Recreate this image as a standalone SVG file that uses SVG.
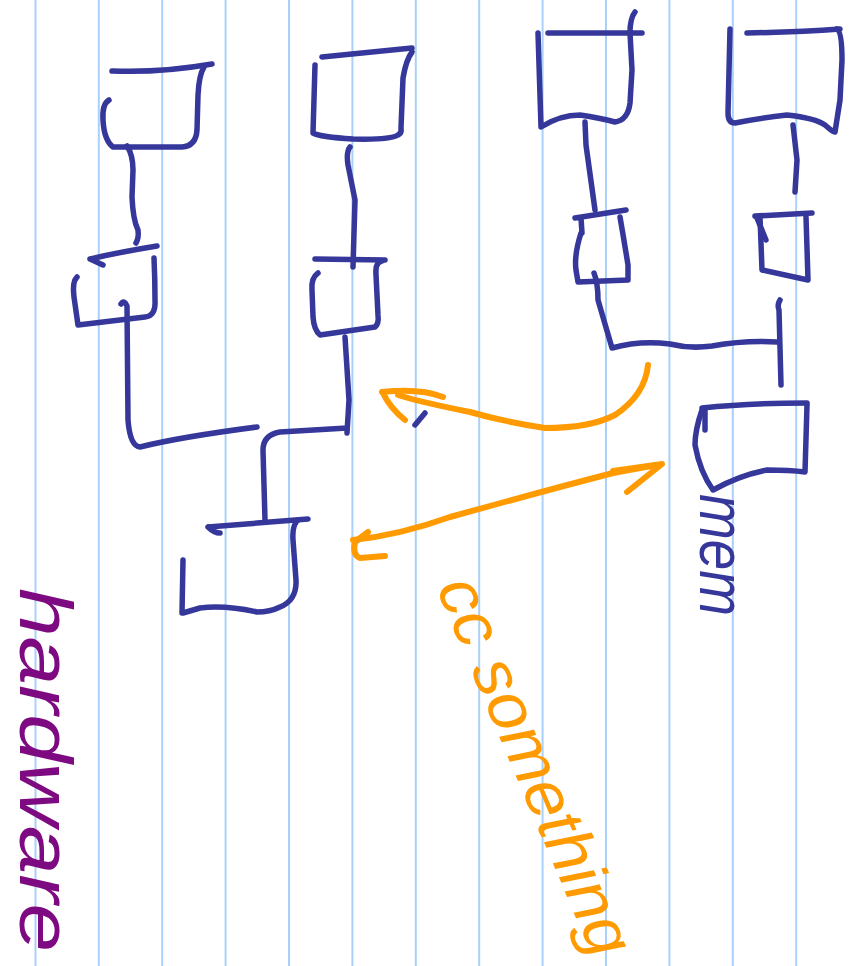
<svg xmlns="http://www.w3.org/2000/svg" width="858" height="966" viewBox="0 0 858 966">
<style>
.rule{stroke:#a9d0fa;stroke-width:2}
.ink{fill:none;stroke:#35379a;stroke-width:5.5;stroke-linecap:round;stroke-linejoin:round}
.or{fill:none;stroke:#ff9a00;stroke-width:6;stroke-linecap:round;stroke-linejoin:round}
.hw{font-family:"Liberation Sans","DejaVu Sans",sans-serif;font-style:italic}
</style>
<rect width="858" height="966" fill="#ffffff"/>
<g id="paper">
<line class="rule" x1="35.5" y1="0" x2="35.5" y2="966"/>
<line class="rule" x1="98.8" y1="0" x2="98.8" y2="966"/>
<line class="rule" x1="162.2" y1="0" x2="162.2" y2="966"/>
<line class="rule" x1="225.6" y1="0" x2="225.6" y2="966"/>
<line class="rule" x1="289" y1="0" x2="289" y2="966"/>
<line class="rule" x1="352.4" y1="0" x2="352.4" y2="966"/>
<line class="rule" x1="415.8" y1="0" x2="415.8" y2="966"/>
<line class="rule" x1="479.2" y1="0" x2="479.2" y2="966"/>
<line class="rule" x1="542.6" y1="0" x2="542.6" y2="966"/>
<line class="rule" x1="606" y1="0" x2="606" y2="966"/>
<line class="rule" x1="669.4" y1="0" x2="669.4" y2="966"/>
<line class="rule" x1="732.8" y1="0" x2="732.8" y2="966"/>
<line class="rule" x1="796.2" y1="0" x2="796.2" y2="966"/>
</g>
<g id="box-a">
<path class="ink" d="M112,71 Q160,73 212,64"/>
<path class="ink" d="M109,100 Q102,104 103,120 Q104,140 113,147 L182,147 Q196,146 197,130 L198,95 Q199,75 204,67"/>
</g>
<g id="box-b">
<path class="ink" d="M90,259 Q120,252 157,246 M90,259 L103,265"/>
<path class="ink" d="M154,258 Q155,280 155,300 Q156,316 145,317 L78,325 M77,277 Q72,282 74,297 L78,325"/>
</g>
<g id="box-c">
<path class="ink" d="M322,57 Q370,52 412,48"/>
<path class="ink" d="M315,65 L313,133 Q320,137 353,139 Q390,140 398,135 Q402,133 401,128 L403,78 Q406,60 412,52"/>
</g>
<g id="box-d">
<path class="ink" d="M315,259 L385,260"/>
<path class="ink" d="M318,273 Q311,278 312,290 L313,317 Q314,330 320,335 L375,327 Q379,324 378,315 L376,275 Q375,262 382,261"/>
</g>
<g id="box-e">
<path class="ink" d="M208,527 Q260,523 308,519 M208,527 Q214,533 220,533"/>
<path class="ink" d="M298,520 Q292,525 293,540 L296,580 Q297,600 280,607 Q270,612 257,612 Q225,605 200,608 L183,613 M183,560 L182,613"/>
</g>
<g id="box-f">
<path class="ink" d="M548,33 L642,33"/>
<path class="ink" d="M538,33 L541,127 Q560,115 580,115 Q600,118 615,122 Q628,120 630,103 L632,70 L630,33 Q630,18 635,12"/>
</g>
<g id="box-g">
<path class="ink" d="M575,218 L626,210 M581,218 L582,233"/>
<path class="ink" d="M581,233 Q574,255 576,270 L578,282 L628,280 L628,265 Q624,240 620,217"/>
</g>
<g id="box-h">
<path class="ink" d="M747,33 Q800,32 840,29"/>
<path class="ink" d="M730,29 L728,113 Q728,123 735,123 Q760,118 787,115 Q815,118 825,125 Q834,133 835,132 L840,100 L842,60 Q842,32 837,29"/>
</g>
<g id="box-i">
<path class="ink" d="M755,216 L812,213 M757,218 L766,240"/>
<path class="ink" d="M760,217 L762,270 Q785,275 808,280 L806,217"/>
</g>
<g id="box-mem">
<path class="ink" d="M702,408 Q750,403 807,403 M705,408 L705,430"/>
<path class="ink" d="M702,410 Q695,430 695,445 Q700,472 713,490 Q740,475 767,470 Q790,470 805,472 L807,405"/>
<text class="hw" transform="translate(700,494) rotate(90)" font-size="64" fill="#35379a" textLength="122" lengthAdjust="spacingAndGlyphs">mem</text>
</g>
<g id="connectors">
<path class="ink" d="M127,146 Q133,155 133,170 L132,197 Q133,220 138,230 Q139,238 136,243"/>
<path class="ink" d="M121,304 Q124,299 127,306 L128,420 Q130,446 140,447 Q180,437 257,427"/>
<path class="ink" d="M350,147 Q346,152 348,165 L355,200 L353,267"/>
<path class="ink" d="M345,337 L349,400 L347,433 M347,428 L280,432 Q263,435 263,450 L265,520"/>
<path class="ink" d="M585,122 L586,145 L595,210"/>
<path class="ink" d="M594,273 Q598,283 598,300 L612,348 Q640,340 670,344 Q690,349 712,346 Q745,340 777,342"/>
<path class="ink" d="M780,300 Q777,305 779,310 L781,385"/>
<path class="ink" d="M793,125 L797,160 L795,192"/>
<path class="ink" d="M415,425 L425,413"/>
<path class="or" d="M648,365 Q645,395 615,415 Q590,428 545,428 Q505,422 470,412 Q420,402 398,395"/>
<path class="or" d="M383,393 Q390,408 405,420 M382,392 Q420,388 443,397"/>
<path class="or" d="M353,540 Q400,535 450,517 Q540,492 613,473 Q640,468 662,464 M613,471 L662,464 L627,492"/>
<path class="or" d="M368,532 L355,542 Q352,555 360,558 L385,556"/>
</g>
<g id="label-hardware">
<text class="hw" transform="translate(20,588) rotate(90)" font-size="74" fill="#7d0a80" textLength="364" lengthAdjust="spacingAndGlyphs">hardware</text>
</g>
<g id="label-cc">
<text class="hw" transform="translate(436,588) rotate(67)" font-size="66" fill="#ff9a00" textLength="405" lengthAdjust="spacingAndGlyphs">cc something</text>
</g>
</svg>
